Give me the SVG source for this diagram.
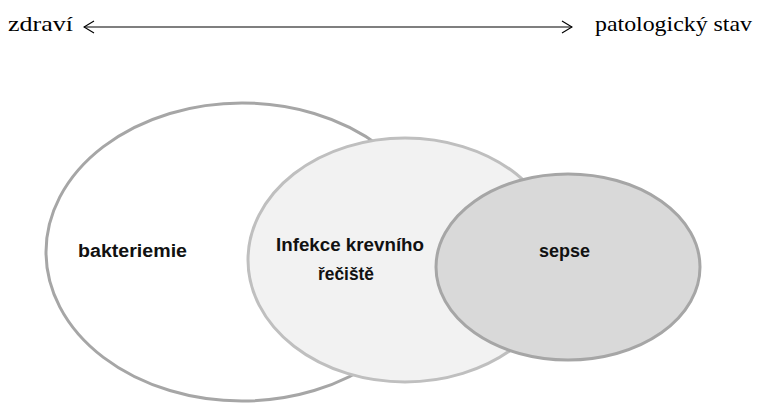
<svg xmlns="http://www.w3.org/2000/svg" width="761" height="405" viewBox="0 0 761 405">
  <style>
    .serif { font-family: "Liberation Serif", "Times New Roman", serif; font-size: 21px; fill: #000; }
    .lbl { font-family: "Liberation Sans", Arial, sans-serif; font-weight: bold; font-size: 18px; fill: #111; }
    .axis { stroke: #000; stroke-width: 1.2; fill: none; }
  </style>
  <defs>
    <marker id="open" viewBox="0 0 12 14" refX="11" refY="7" markerWidth="12" markerHeight="14" markerUnits="userSpaceOnUse" orient="auto-start-reverse">
      <path d="M1,1 L11,7 L1,13" fill="none" stroke="#000" stroke-width="1.2"/>
    </marker>
  </defs>
  <rect width="761" height="405" fill="#fff"/>

  <g id="axis-labels">
    <text class="serif" x="8" y="31" textLength="65" lengthAdjust="spacingAndGlyphs">zdraví</text>
    <text class="serif" x="595" y="31" textLength="157" lengthAdjust="spacingAndGlyphs">patologický stav</text>
  </g>

  <g id="connectors">
    <line class="axis" x1="84" y1="27" x2="572" y2="27" marker-start="url(#open)" marker-end="url(#open)"/>
  </g>

  <g id="bakteriemie">
    <ellipse cx="242" cy="252" rx="196" ry="149" fill="#fff" stroke="#a6a6a6" stroke-width="3"/>
    <text class="lbl" x="78" y="257" textLength="109" lengthAdjust="spacingAndGlyphs">bakteriemie</text>
  </g>

  <g id="infekce">
    <ellipse cx="405" cy="260" rx="157" ry="122" fill="#f2f2f2" stroke="#bfbfbf" stroke-width="3"/>
    <text class="lbl" x="276" y="251" textLength="148" lengthAdjust="spacingAndGlyphs">Infekce krevního</text>
    <text class="lbl" x="318" y="280" textLength="56" lengthAdjust="spacingAndGlyphs">řečiště</text>
  </g>

  <g id="sepse">
    <ellipse cx="568" cy="267" rx="132" ry="93" fill="#d9d9d9" stroke="#a6a6a6" stroke-width="3"/>
    <text class="lbl" x="539" y="257" textLength="51" lengthAdjust="spacingAndGlyphs">sepse</text>
  </g>
</svg>
